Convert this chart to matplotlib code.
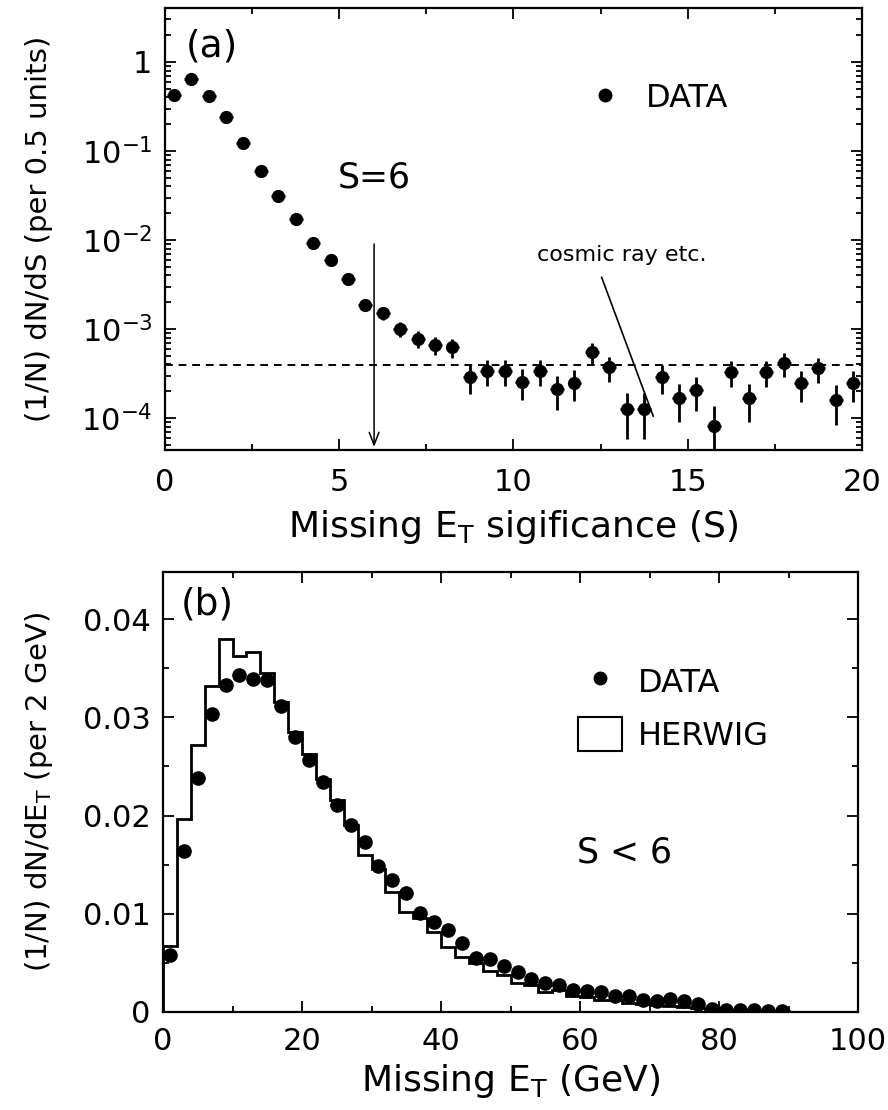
import matplotlib.pyplot as plt
from matplotlib.ticker import MultipleLocator, LogLocator, NullFormatter, FuncFormatter
from matplotlib.lines import Line2D
from matplotlib.patches import Patch
import numpy as np

# panel (a): missing ET significance, bins of 0.5
sig_x = [0.25, 0.75, 1.25, 1.75, 2.25, 2.75, 3.25, 3.75, 4.25, 4.75,
         5.25, 5.75, 6.25, 6.75, 7.25, 7.75, 8.25, 8.75, 9.25, 9.75,
         10.25, 10.75, 11.25, 11.75, 12.25, 12.75, 13.25, 13.75, 14.25, 14.75,
         15.25, 15.75, 16.25, 16.75, 17.25, 17.75, 18.25, 18.75, 19.25, 19.75]
sig_y = [0.43, 0.64, 0.41, 0.24, 0.124, 0.060, 0.031, 0.0173, 0.0092, 0.0060,
         0.0036, 0.00186, 0.0015, 0.00100, 0.00078, 0.00066, 0.00062, 2.9e-4, 3.4e-4, 3.4e-4,
         2.55e-4, 3.4e-4, 2.1e-4, 2.5e-4, 5.5e-4, 3.7e-4, 1.25e-4, 1.25e-4, 2.9e-4, 1.66e-4,
         2.05e-4, 8.1e-5, 3.3e-4, 1.66e-4, 3.3e-4, 4.1e-4, 2.45e-4, 3.6e-4, 1.6e-4, 2.45e-4]
sig_err = [0.004, 0.005, 0.004, 0.003, 0.002, 0.0014, 0.001, 0.0008, 0.0006, 0.00046,
           0.00036, 0.00026, 0.00023, 0.00019, 0.00017, 0.00015, 0.00015, 1.02e-4, 1.11e-4, 1.11e-4,
           0.96e-4, 1.11e-4, 0.87e-4, 0.95e-4, 1.41e-4, 1.15e-4, 0.67e-4, 0.67e-4, 1.02e-4, 0.77e-4,
           0.86e-4, 0.54e-4, 1.09e-4, 0.77e-4, 1.09e-4, 1.21e-4, 0.94e-4, 1.14e-4, 0.76e-4, 0.94e-4]
flat_level = 3.9e-4
cut_S = 6

# panel (b): missing ET for S < 6, bins of 2 GeV
met_x = [1, 3, 5, 7, 9, 11, 13, 15, 17, 19, 21, 23, 25, 27, 29, 31, 33, 35, 37, 39,
         41, 43, 45, 47, 49, 51, 53, 55, 57, 59, 61, 63, 65, 67, 69, 71, 73, 75, 77, 79,
         81, 83, 85, 87, 89]
met_data = [0.0058, 0.0164, 0.0238, 0.0303, 0.0333, 0.0343, 0.0339, 0.0338, 0.0312, 0.0280,
            0.0257, 0.0234, 0.0211, 0.0190, 0.0173, 0.0149, 0.0134, 0.0121, 0.0101, 0.0092,
            0.0083, 0.0070, 0.0055, 0.0054, 0.0047, 0.0041, 0.0034, 0.0030, 0.0027, 0.0022,
            0.0021, 0.0020, 0.0016, 0.0016, 0.0012, 0.0011, 0.0013, 0.0011, 0.0008, 0.0003,
            0.0002, 0.0002, 0.0002, 0.0001, 0.0001]
herwig_edges = list(range(0, 102, 2))
herwig = [0.0067, 0.0197, 0.0272, 0.0332, 0.0380, 0.0362, 0.0367, 0.0345, 0.0316, 0.0285,
          0.0263, 0.0237, 0.0216, 0.0190, 0.0160, 0.0146, 0.0122, 0.0102, 0.0096, 0.0081,
          0.0066, 0.0056, 0.0050, 0.0042, 0.0038, 0.0030, 0.0027, 0.0020, 0.0022, 0.0016,
          0.0015, 0.0012, 0.0012, 0.0009, 0.0008, 0.0007, 0.0006, 0.0005, 0.0004, 0.0003,
          0.0002, 0.0002, 0.0002, 0.0001, 0.0001, 0, 0, 0, 0, 0]

plt.rcParams['font.family'] = 'DejaVu Sans'
plt.rcParams['mathtext.fontset'] = 'dejavusans'

fig = plt.figure(figsize=(8.88, 11.1), dpi=100)
ax1 = fig.add_axes([0.1858, 0.5946, 0.7849, 0.3982])
ax2 = fig.add_axes([0.1836, 0.0883, 0.7827, 0.3964])

for ax in (ax1, ax2):
    ax.tick_params(which='both', direction='in', top=True, right=True, width=1.3)
    ax.tick_params(which='major', length=8, labelsize=22, pad=9)
    ax.tick_params(which='minor', length=4.5)
    for sp in ax.spines.values():
        sp.set_linewidth(1.6)
ax1.tick_params(axis='x', which='major', pad=13)
ax2.tick_params(axis='x', which='major', pad=11)

# ---- (a)
ax1.set_yscale('log')
ax1.errorbar(sig_x, sig_y, yerr=sig_err, xerr=0.2, fmt='o', color='k',
             markersize=8.5, elinewidth=2, capsize=0)
ax1.axhline(flat_level, color='k', ls=(0, (4, 3)), lw=1.4)
ax1.annotate('', xy=(cut_S, 4.4e-5), xytext=(cut_S, 0.0097),
             arrowprops=dict(arrowstyle='->,head_length=0.9,head_width=0.35', lw=1.1, color='k'))
ax1.text(cut_S, 0.05, 'S=6', fontsize=25, ha='center', va='center')
ax1.text(0.6, 1.5, '(a)', fontsize=27, ha='left', va='center')
ax1.text(13.1, 6.8e-3, 'cosmic ray etc.', fontsize=16, ha='center', va='center')
ax1.plot([12.53, 14.01], [3.8e-3, 1.05e-4], color='k', lw=1.2)
ax1.set_xlim(0, 20)
ax1.set_ylim(4.37e-5, 4.04)
ax1.xaxis.set_major_locator(MultipleLocator(5))
ax1.xaxis.set_minor_locator(MultipleLocator(2.5))
ax1.yaxis.set_major_locator(LogLocator(base=10, numticks=10))
ax1.yaxis.set_minor_locator(LogLocator(base=10, subs=np.arange(2, 10), numticks=20))
ax1.yaxis.set_minor_formatter(NullFormatter())
ax1.yaxis.set_major_formatter(FuncFormatter(
    lambda v, p: '1' if abs(v - 1) < 1e-9 else r'$10^{%d}$' % round(np.log10(v))))
ax1.set_xlabel(r'Missing E$_\mathrm{T}$ sigificance (S)', fontsize=26, labelpad=8)
ax1.set_ylabel('(1/N) dN/dS (per 0.5 units)', fontsize=21, labelpad=20)
ax1.legend([Line2D([], [], marker='o', ls='none', color='k', markersize=9)], ['DATA'],
           loc='upper left', bbox_to_anchor=(0.585, 0.86), frameon=False,
           fontsize=23, handlelength=1.2, handletextpad=0.7, borderaxespad=0)

# ---- (b)
ax2.stairs(herwig, herwig_edges, color='k', lw=2)
ax2.plot(met_x, met_data, 'o', color='k', markersize=9.5)
ax2.text(2.6, 0.0415, '(b)', fontsize=27, ha='left', va='center')
ax2.text(59.5, 0.0162, 'S < 6', fontsize=25, ha='left', va='center')
ax2.set_xlim(0, 100)
ax2.set_ylim(0, 0.0448)
ax2.xaxis.set_major_locator(MultipleLocator(20))
ax2.xaxis.set_minor_locator(MultipleLocator(10))
ax2.yaxis.set_major_locator(MultipleLocator(0.01))
ax2.yaxis.set_minor_locator(MultipleLocator(0.005))
ax2.yaxis.set_major_formatter(FuncFormatter(lambda v, p: '0' if v == 0 else '%.2f' % v))
ax2.set_xlabel(r'Missing E$_\mathrm{T}$ (GeV)', fontsize=26, labelpad=4)
ax2.set_ylabel(r'(1/N) dN/dE$_\mathrm{T}$ (per 2 GeV)', fontsize=21, labelpad=20)
ax2.legend([Line2D([], [], marker='o', ls='none', color='k', markersize=9),
            Patch(facecolor='white', edgecolor='k', lw=1.5)], ['DATA', 'HERWIG'],
           loc='upper left', bbox_to_anchor=(0.578, 0.82), frameon=False,
           fontsize=23, handlelength=1.4, handleheight=1.3, handletextpad=0.5,
           labelspacing=0.55, borderaxespad=0)

fig.savefig('out.png', dpi=100)
